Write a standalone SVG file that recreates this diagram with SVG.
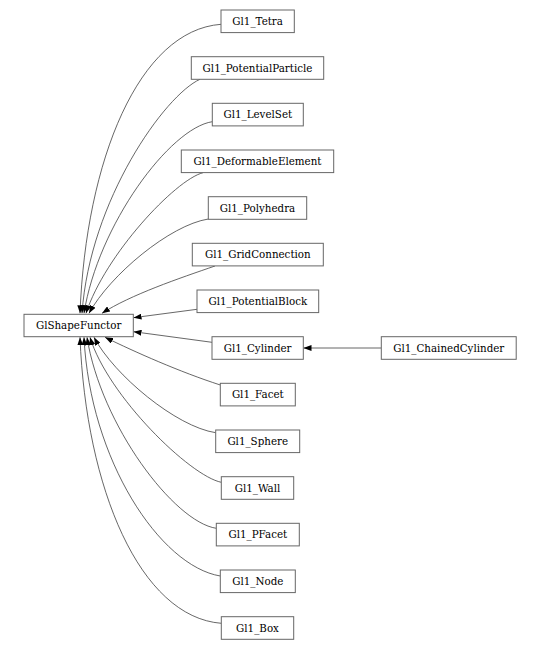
<svg xmlns="http://www.w3.org/2000/svg" width="541" height="650" viewBox="0 0 541 650">
<style>
.n rect{fill:#fff;stroke:#666;stroke-width:1}
.n text{font-family:"DejaVu Serif","Liberation Serif",serif;font-size:10.3px;fill:#000;text-anchor:middle}
.e path{fill:none;stroke:#404040;stroke-width:0.8;marker-end:url(#ah)}
</style>
<defs>
<marker id="ah" markerUnits="userSpaceOnUse" markerWidth="8" markerHeight="6" viewBox="0 0 8 6" refX="8" refY="3" orient="auto">
<path d="M0,0 L8,3 L0,6 z" fill="#000" stroke="none"/>
</marker>
</defs>
<rect width="541" height="650" fill="#fff"/>
<g id="edges" class="e">
<path d="M221,24.3 C139,30.3 86,160 80,313.3"/>
<path d="M200,79.3 C165,95 90,200 82,313.3"/>
<path d="M212.3,121.7 C170,128 98,225 84,313.3"/>
<path d="M203,172.7 C175,180 105,255 86,313.3"/>
<path d="M208.3,219 C170,225 110,275 89,313.3"/>
<path d="M215,266 C180,278 130,295 102,313.3"/>
<path d="M197,309.3 L133.5,317.7"/>
<path d="M212,342.3 L133.5,331.7"/>
<path d="M381.3,348 L303.5,348"/>
<path d="M220.3,385 C180,372 135,352 105,337.3"/>
<path d="M215.7,432.7 C176,426.7 114,375 94,337.3"/>
<path d="M221.3,482.3 C190,476 108,396 90,337.3"/>
<path d="M216.3,528.3 C174,522 101,425 87,337.3"/>
<path d="M220.3,576 C160,566 90,460 84,337.3"/>
<path d="M221.3,623.3 C140,617 86,488.5 80,337.3"/>
</g>
<g id="GlShapeFunctor" class="n"><rect x="24" y="314.3" width="109.3" height="22.4"/><text x="78.65" y="329">GlShapeFunctor</text></g>
<g id="Gl1_Tetra" class="n"><rect x="221" y="10" width="73.3" height="22.6"/><text x="257.65" y="24.8">Gl1_Tetra</text></g>
<g id="Gl1_PotentialParticle" class="n"><rect x="191.3" y="56.7" width="132.4" height="22.6"/><text x="257.5" y="71.5">Gl1_PotentialParticle</text></g>
<g id="Gl1_LevelSet" class="n"><rect x="212.3" y="103.3" width="91" height="22.6"/><text x="257.8" y="118.1">Gl1_LevelSet</text></g>
<g id="Gl1_DeformableElement" class="n"><rect x="181.3" y="150" width="152.4" height="22.6"/><text x="257.5" y="164.8">Gl1_DeformableElement</text></g>
<g id="Gl1_Polyhedra" class="n"><rect x="208.3" y="196.7" width="98.4" height="22.6"/><text x="257.5" y="211.5">Gl1_Polyhedra</text></g>
<g id="Gl1_GridConnection" class="n"><rect x="192.3" y="243.3" width="131" height="22.6"/><text x="257.8" y="258.1">Gl1_GridConnection</text></g>
<g id="Gl1_PotentialBlock" class="n"><rect x="197" y="290" width="121.7" height="22.6"/><text x="257.85" y="304.8">Gl1_PotentialBlock</text></g>
<g id="Gl1_Cylinder" class="n"><rect x="212" y="336.7" width="91.3" height="22.6"/><text x="257.65" y="351.5">Gl1_Cylinder</text></g>
<g id="Gl1_ChainedCylinder" class="n"><rect x="381.3" y="336.7" width="134.9" height="22.6"/><text x="448.75" y="351.5">Gl1_ChainedCylinder</text></g>
<g id="Gl1_Facet" class="n"><rect x="220.3" y="383.3" width="75" height="22.6"/><text x="257.8" y="398.1">Gl1_Facet</text></g>
<g id="Gl1_Sphere" class="n"><rect x="215.7" y="430" width="84" height="22.6"/><text x="257.7" y="444.8">Gl1_Sphere</text></g>
<g id="Gl1_Wall" class="n"><rect x="221.3" y="476.7" width="72.4" height="22.6"/><text x="257.5" y="491.5">Gl1_Wall</text></g>
<g id="Gl1_PFacet" class="n"><rect x="216.3" y="523.3" width="83" height="22.6"/><text x="257.8" y="538.1">Gl1_PFacet</text></g>
<g id="Gl1_Node" class="n"><rect x="220.3" y="570" width="75" height="22.6"/><text x="257.8" y="584.8">Gl1_Node</text></g>
<g id="Gl1_Box" class="n"><rect x="221.3" y="616.7" width="72.4" height="22.6"/><text x="257.5" y="631.5">Gl1_Box</text></g>
</svg>
